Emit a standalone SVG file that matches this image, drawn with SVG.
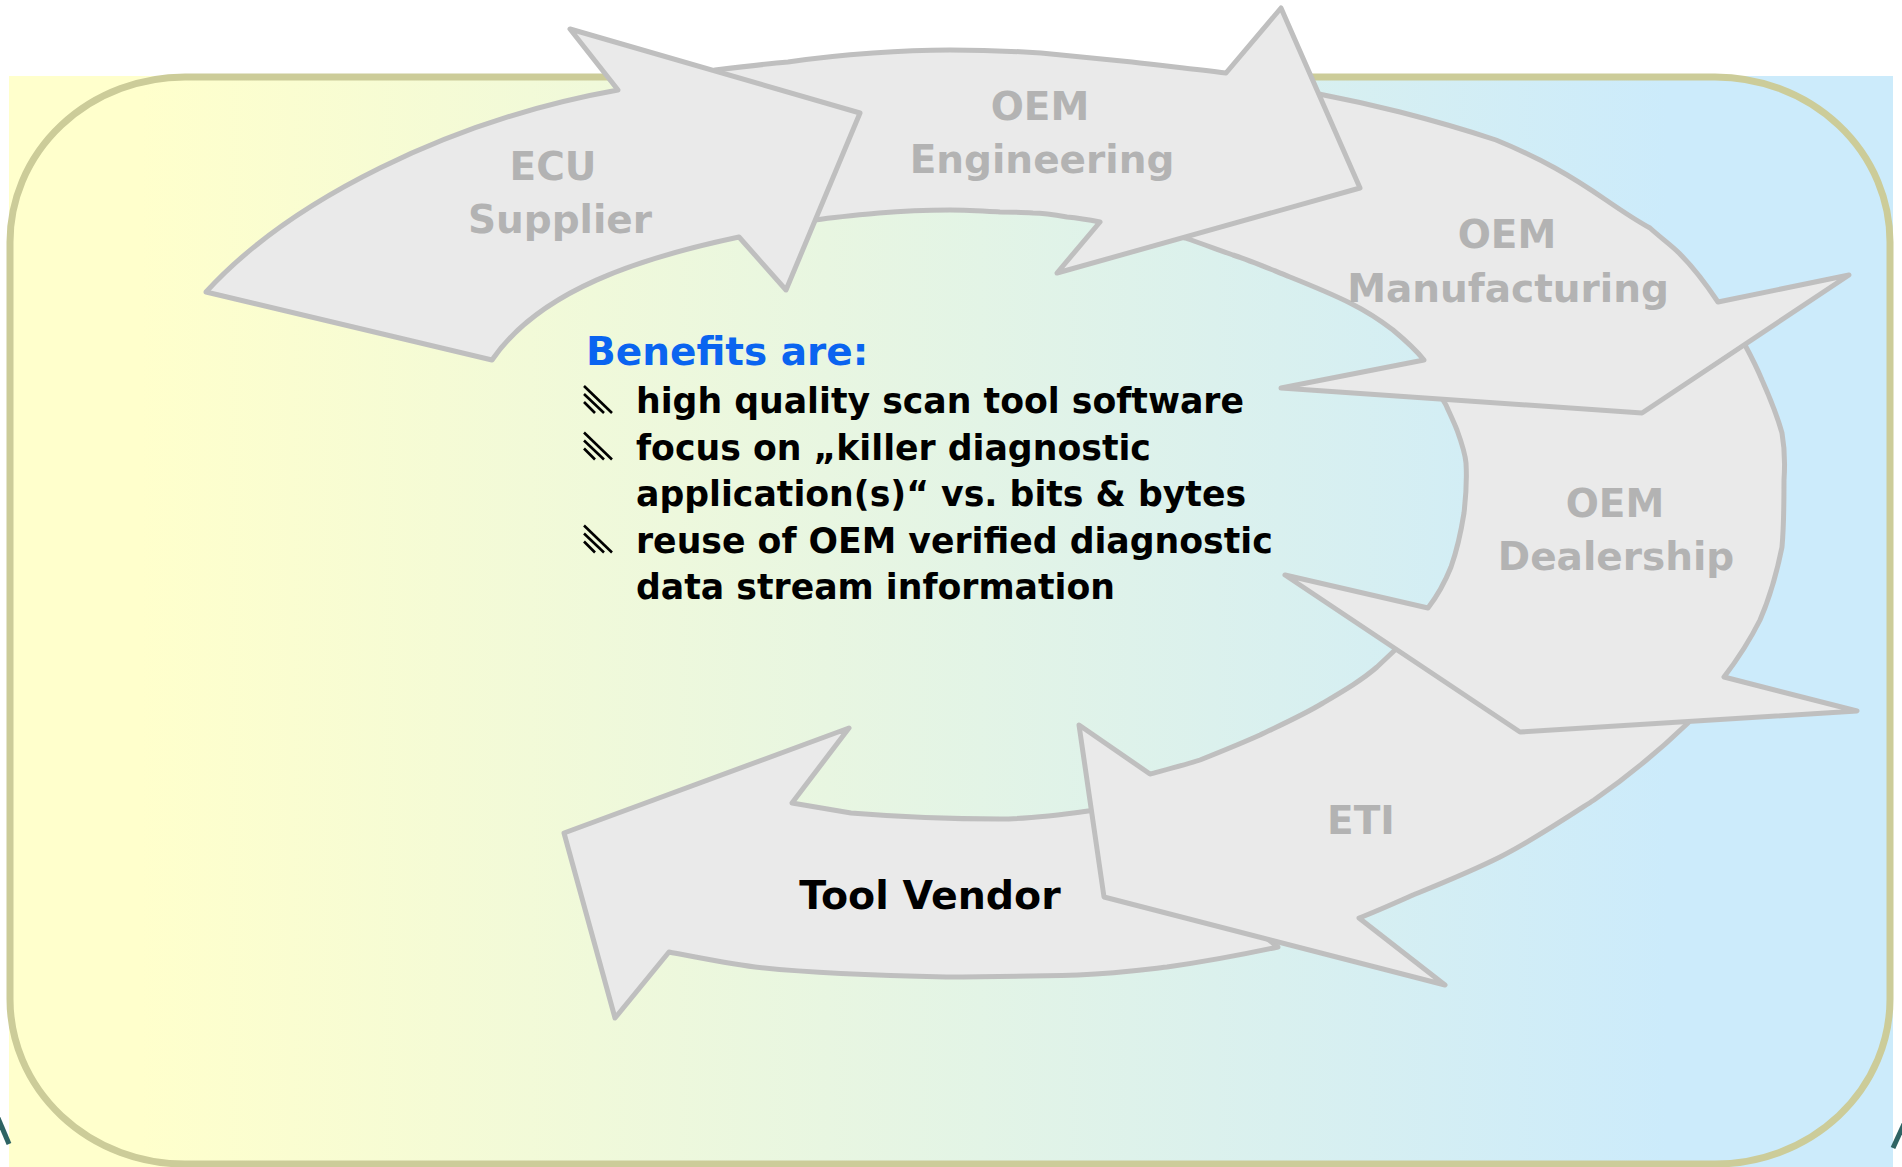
<svg xmlns="http://www.w3.org/2000/svg" xmlns:xlink="http://www.w3.org/1999/xlink" width="1902" height="1167" viewBox="0 0 1902 1167">
<defs>
<linearGradient id="bg" x1="0" y1="0" x2="1" y2="0">
<stop offset="0" stop-color="#FFFFCC"/>
<stop offset="0.07" stop-color="#FFFFCC"/>
<stop offset="0.88" stop-color="#CCEBFB"/>
<stop offset="1" stop-color="#CCEBFB"/>
</linearGradient>
<g id="bullet">
<line x1="584" y1="-27" x2="612" y2="0"/>
<line x1="584" y1="-19" x2="604" y2="0"/>
<line x1="584" y1="-11" x2="595" y2="0"/>
</g>
<style>
.arrow{fill:#EAEAEA;stroke:#BFBFBF;stroke-width:5;stroke-linejoin:round;stroke-linecap:round}
.lbl{font-family:"DejaVu Sans",Verdana,sans-serif;font-weight:bold;font-size:39px;fill:#B3B3B3;text-anchor:middle}
.body{font-family:"DejaVu Sans",Verdana,sans-serif;font-weight:bold;font-size:34.7px;fill:#000}
.bul{stroke:#000;stroke-width:2.6}
</style>
</defs>
<rect id="background" x="9" y="76" width="1884" height="1091" fill="url(#bg)"/>
<line x1="-2" y1="1118" x2="9" y2="1144" stroke="#2E6363" stroke-width="5"/>
<line x1="1893" y1="1148" x2="1904" y2="1124" stroke="#2E6363" stroke-width="5"/>
<rect id="frame" x="10" y="77" width="1880" height="1087" rx="175" ry="165" fill="none" stroke="#CCCC99" stroke-width="7"/>
<g id="connectors">
<g id="tool-vendor">
<path class="arrow" d="M1100,810 L1088,811 C1060,815 1030,819 1000,819 C960,819 900,817 851,813 L792,803 L849,728 L564,833 L615,1018 L669,952 C700,958 730,964 755,967 C800,972 850,975 946,977 C1000,977 1040,976 1078,975 C1120,973 1140,970 1167,967 C1210,961 1250,953 1278,947 Z"/>
<text x="930" y="909" font-family="DejaVu Sans,Verdana,sans-serif" font-weight="bold" font-size="39.5" fill="#000" text-anchor="middle">Tool Vendor</text>
</g>
<g id="eti">
<path class="arrow" d="M1695,712 L1688,723 C1660,750 1630,775 1594,800 C1560,822 1530,842 1500,857 C1470,872 1440,884 1413,895 C1395,903 1375,912 1359,918 L1445,985 L1104,897 L1079,725 L1150,774 C1165,770 1185,765 1200,760 C1220,752 1240,744 1260,735 C1285,723 1305,714 1323,703 C1345,690 1362,680 1377,667 L1395,650 L1405,643 Z"/>
<text class="lbl" x="1361" y="834">ETI</text>
</g>
<g id="oem-dealership">
<path class="arrow" d="M1738,336 L1745,345 C1752,358 1757,368 1762,380 C1770,398 1777,415 1782,433 C1785,450 1785,465 1784,480 C1784,505 1784,525 1782,547 C1777,572 1770,597 1760,620 C1750,640 1737,660 1724,677 L1857,711 L1520,732 L1285,575 L1428,608 C1438,595 1445,582 1451,567 C1457,550 1461,532 1464,513 C1466,496 1467,480 1466,463 C1465,452 1461,441 1457,430 C1453,420 1449,412 1446,405 L1440,395 Z"/>
<text class="lbl" x="1615" y="517">OEM</text>
<text class="lbl" x="1616" y="570">Dealership</text>
</g>
<g id="oem-manufacturing">
<path class="arrow" d="M1300,95 L1314,93 C1345,99 1372,105 1400,112 C1435,121 1466,130 1496,140 C1518,149 1537,158 1555,168 C1573,178 1590,189 1606,200 C1622,211 1637,221 1650,228 C1661,238 1671,245 1679,253 C1694,268 1706,284 1718,302 L1849,275 L1642,413 L1281,388 L1424,360 C1416,350 1405,340 1393,330 C1380,320 1366,311 1350,303 C1330,293 1310,285 1290,277 C1270,269 1252,261 1233,255 C1216,249 1200,243 1185,238 L1165,232 Z"/>
<text class="lbl" x="1507" y="248">OEM</text>
<text class="lbl" x="1508" y="302">Manufacturing</text>
</g>
<g id="oem-engineering">
<path class="arrow" d="M700,78 L715,70 C740,67 765,64 788,62 C815,58 845,55 873,53 C900,51 925,50 950,50 C980,50 1010,51 1041,53 C1072,56 1102,59 1132,62 C1165,66 1195,69 1226,73 L1281,8 L1360,188 L1057,273 L1100,222 C1090,220 1078,218 1067,217 C1056,215 1044,213 1033,213 C1022,212 1011,212 1000,212 C983,211 967,210 950,210 C926,210 902,211 879,213 C857,215 836,217 815,220 L800,222 Z"/>
<text class="lbl" x="1040" y="120">OEM</text>
<text class="lbl" x="1042" y="173">Engineering</text>
</g>
<g id="ecu-supplier">
<path class="arrow" d="M492,360 L206,292 C290,200 450,120 618,90 L570,29 L860,113 L786,290 L739,237 C640,258 540,290 492,360 Z"/>
<text class="lbl" x="553" y="180">ECU</text>
<text class="lbl" x="560" y="233">Supplier</text>
</g>
</g>
<g id="benefits">
<text x="586" y="365" font-family="DejaVu Sans,Verdana,sans-serif" font-weight="bold" font-size="39" fill="#0A64F0">Benefits are:</text>
<use xlink:href="#bullet" class="bul" transform="translate(0,413)"/>
<use xlink:href="#bullet" class="bul" transform="translate(0,459.5)"/>
<use xlink:href="#bullet" class="bul" transform="translate(0,552.5)"/>
<text class="body" x="636" y="413">high quality scan tool software</text>
<text class="body" x="636" y="459.5">focus on „killer diagnostic</text>
<text class="body" x="636" y="506">application(s)“ vs. bits &amp; bytes</text>
<text class="body" x="636" y="552.5">reuse of OEM verified diagnostic</text>
<text class="body" x="636" y="599">data stream information</text>
</g>
</svg>
